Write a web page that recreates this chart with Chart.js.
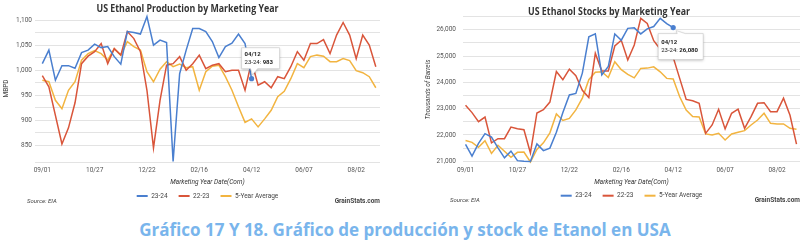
<!DOCTYPE html>
<html><head><meta charset="utf-8">
<script src="https://cdn.jsdelivr.net/npm/chart.js@4.4.1/dist/chart.umd.min.js"></script>
<style>
html,body{margin:0;padding:0;background:#fff;width:810px;height:244px;overflow:hidden}
.box{position:absolute;top:0;height:210px}
#c1box{left:0;width:395px}
#c2box{left:405px;width:405px}
#caption{position:absolute;left:0;width:810px;top:219px;text-align:center;font:bold 17px 'Open Sans';color:#79b5ec;line-height:22px;white-space:nowrap}
</style></head><body>
<div class="box" id="c1box"><canvas id="c1" width="395" height="210"></canvas></div>
<div class="box" id="c2box"><canvas id="c2" width="405" height="210"></canvas></div>
<div id="caption">Gráfico 17 Y 18. Gráfico de producción y stock de Etanol en USA</div>
<script>
// ---- data ----
const weekLabels = ['09/01','10/27','12/22','02/16','04/12','06/07','08/02'];
const seriesNames = ['23-24','22-23','5-Year Average'];

const prodTicks  = [850, 900, 950, 1000, 1050, 1100];
const stockTicks = [21000, 22000, 23000, 24000, 25000, 26000];

const prod2324 = [1013,1040,980,1009,1009,1004,1035,1040,1052,1045,1047,1027,1012,1077,1075,1072,1107,1050,1060,1055,818,993,1040,1083,1083,1077,1057,1025,1047,1054,1072,1053,983];
const prod2223 = [989,967,910,853,885,935,1013,1028,1037,1053,1013,1043,1030,1077,1063,1037,960,845,940,1010,1013,1027,1000,1013,1030,1003,1010,1013,997,1000,1000,960,1017,970,977,965,987,983,1007,1037,1020,1053,1053,1061,1033,1070,1095,1070,1023,1070,1050,1007];
const prod5yr  = [980,977,940,923,960,977,1020,1033,1039,1033,1020,1043,1030,1057,1047,1040,997,977,1002,1017,1007,1012,1005,1007,960,997,1008,1010,987,960,927,896,903,887,903,920,947,958,983,1013,1005,1027,1030,1028,1017,1017,1023,1019,999,995,987,965];

const stock2324 = [21640,21195,21680,22050,21920,21510,21130,21385,21025,21000,20990,21660,21405,21500,22100,22850,23520,23580,24350,25730,25840,24280,24600,25840,25600,26050,26070,25840,26030,26120,26430,26230,26080];
const stock2223 = [23130,22850,22505,22680,21700,21860,21860,22300,22240,22200,21315,22835,22960,23250,24410,24100,24500,24250,23700,23420,25100,24430,24430,25380,25600,24850,25420,26430,26240,25580,25260,25000,24950,24150,23350,23300,23200,22060,22380,22975,22230,22823,22980,22253,22694,23202,23227,22884,22884,23400,22750,21650];
const stock5yr  = [21790,21720,21530,21780,21300,21610,21380,21150,21340,21350,20975,21450,21700,22080,22800,22550,22630,22950,23400,24100,24380,24400,24180,24780,24480,24300,24170,24530,24540,24590,24400,24150,24130,23450,22950,22700,22680,22040,22000,22063,21810,22037,22100,22164,22379,22569,22823,22443,22417,22417,22253,22215];

const colors = ['#4a7fcf','#d9553a','#f2b440'];
const tipIndex = 32;

// ---- decoration plugin (title, legend, footer, callout) ----
const decor = {
  id: 'decor',
  afterDraw(chart, args, o) {
    const ctx = chart.ctx, ca = chart.chartArea;
    ctx.save();
    ctx.textBaseline = 'middle';
    // title
    ctx.font = 'bold 10px "Open Sans"';
    ctx.fillStyle = '#333';
    ctx.textAlign = 'center';
    const tw = ctx.measureText(o.title).width;
    ctx.save();
    ctx.translate(o.titleX, o.titleY);
    ctx.scale(o.titleW / tw, 1);
    ctx.fillText(o.title, 0, 0);
    ctx.restore();
    // legend
    ctx.font = '6.5px Roboto';
    const items = chart.data.datasets.map(d => ({t: d.label, c: d.borderColor, w: ctx.measureText(d.label).width}));
    const lw = 11, gap = 3.5, sp = 11;
    const total = items.reduce((s, it) => s + lw + gap + it.w, 0) + sp * (items.length - 1);
    let x = (ca.left + ca.right) / 2 - total / 2;
    ctx.textAlign = 'left';
    items.forEach(it => {
      ctx.strokeStyle = it.c; ctx.lineWidth = 2;
      ctx.beginPath(); ctx.moveTo(x, o.legendY); ctx.lineTo(x + lw, o.legendY); ctx.stroke();
      x += lw + gap;
      ctx.fillStyle = '#444';
      ctx.fillText(it.t, x, o.legendY);
      x += it.w + sp;
    });
    // footer
    ctx.font = 'italic 6px Roboto';
    ctx.fillStyle = '#444';
    ctx.fillText('Source: EIA', o.sourceX, o.footY);
    ctx.font = 'bold 6.5px Roboto';
    ctx.textAlign = 'right';
    ctx.fillText('GrainStats.com', ca.right, o.footY);
    // callout
    const ds = chart.data.datasets[0];
    const pt = chart.getDatasetMeta(0).data[tipIndex];
    const px = pt.x, py = pt.y;
    const [dx, dy, bw, bh] = o.tipBox;
    const bx = px + dx, by = py + dy;
    ctx.beginPath();
    if (o.tail === 'bottom') {
      ctx.moveTo(bx, by); ctx.lineTo(bx + bw, by); ctx.lineTo(bx + bw, by + bh);
      ctx.lineTo(px + 6, by + bh); ctx.lineTo(px + 1, py - 4); ctx.lineTo(px - 1, by + bh);
      ctx.lineTo(bx, by + bh); ctx.closePath();
    } else {
      ctx.moveTo(bx, by); ctx.lineTo(px + 4, by); ctx.lineTo(px + 3, py + 3); ctx.lineTo(px + 12, by);
      ctx.lineTo(bx + bw, by); ctx.lineTo(bx + bw, by + bh); ctx.lineTo(bx, by + bh); ctx.closePath();
    }
    ctx.shadowColor = 'rgba(0,0,0,0.25)'; ctx.shadowBlur = 3; ctx.shadowOffsetY = 1;
    ctx.fillStyle = '#fff'; ctx.fill();
    ctx.shadowColor = 'rgba(0,0,0,0)';
    ctx.strokeStyle = '#c8c8c8'; ctx.lineWidth = 0.6; ctx.stroke();
    ctx.textAlign = 'left';
    ctx.fillStyle = '#222';
    ctx.font = 'bold 6px Roboto';
    ctx.fillText(weekLabels[tipIndex / 8], bx + 3, by + o.tipL1);
    ctx.font = '6px Roboto';
    const pre = ds.label + ': ';
    ctx.fillText(pre, bx + 3, by + o.tipL2);
    const pw = ctx.measureText(pre).width;
    ctx.font = 'bold 6px Roboto';
    ctx.fillText(ds.data[tipIndex].y.toLocaleString('en-US'), bx + 3 + pw, by + o.tipL2);
    ctx.restore();
  }
};

function makeChart(id, cfg) {
  const labelSet = new Set(cfg.labels);
  return new Chart(document.getElementById(id), {
    type: 'line',
    data: {
      datasets: cfg.series.map((s, k) => ({
        label: seriesNames[k],
        data: s.map((v, i) => ({x: i, y: v})),
        borderColor: colors[k],
        backgroundColor: colors[k],
        borderWidth: 1.5,
        pointRadius: c => (k === 0 && c.dataIndex === tipIndex) ? 2.6 : 0,
        pointBackgroundColor: colors[k],
        pointBorderWidth: 0,
        tension: 0,
        clip: false
      }))
    },
    options: {
      responsive: false, animation: false, devicePixelRatio: 1, events: [],
      layout: {padding: cfg.pad},
      plugins: {legend: {display: false}, tooltip: {enabled: false}, decor: cfg.decor},
      scales: {
        x: {
          type: 'linear', min: cfg.xmin, max: cfg.xmax,
          afterBuildTicks: s => { s.ticks = weekLabels.map((_, j) => ({value: j * 8})); },
          afterFit: s => { s.height = 24; },
          grid: {display: false, drawTicks: false}, border: {display: false},
          ticks: {autoSkip: false, maxRotation: 0, padding: 4, color: '#555',
                  font: {family: 'Roboto', size: 6.5},
                  callback: v => weekLabels[v / 8] ?? ''},
          title: {display: true, text: 'Marketing Year Date(Corn)', color: '#333',
                  font: {family: 'Roboto', size: 6.5, style: 'italic'}, padding: {top: 0, bottom: 0}}
        },
        y: {
          min: cfg.ymin, max: cfg.ymax,
          afterBuildTicks: s => {
            const t = [];
            if (cfg.baseLine) t.push({value: cfg.ymin});
            const first = cfg.labels[0], last = cfg.labels[cfg.labels.length - 1];
            for (let v = first; v <= last + cfg.minor; v += cfg.minor) if (v < cfg.ymax) t.push({value: v});
            s.ticks = t;
          },
          afterFit: s => { s.width = cfg.yw; },
          border: {display: false},
          grid: {drawTicks: false, lineWidth: 1, color: '#e3e3e3'},
          ticks: {autoSkip: false, padding: cfg.tickPad, color: '#555',
                  font: {family: 'Roboto', size: 6.5},
                  callback: v => labelSet.has(v) ? v.toLocaleString('en-US') : ''},
          title: {display: true, text: cfg.ytitle, color: '#444',
                  font: {family: 'Roboto', size: 6.5, style: cfg.ytStyle}, padding: {top: cfg.ytp, bottom: 0}}
        }
      }
    },
    plugins: [decor]
  });
}

makeChart('c1', {
  series: [prod2324, prod2223, prod5yr],
  pad: {top: 15, right: 15, bottom: 24, left: 0},
  xmin: -1.12, xmax: 51.64,
  ymin: 817, ymax: 1110, labels: prodTicks, minor: 25, baseLine: true,
  yw: 35, tickPad: 3, ytp: 2,
  ytitle: 'MBPD', ytStyle: 'normal',
  decor: {title: 'US Ethanol Production by Marketing Year', titleX: 187.5, titleY: 9.5, titleW: 182,
          legendY: 196, sourceX: 27, footY: 201,
          tipBox: [-10, -31, 38, 21], tail: 'bottom', tipL1: 7, tipL2: 15}
});

makeChart('c2', {
  series: [stock2324, stock2223, stock5yr],
  pad: {top: 16.5, right: 10, bottom: 23.4, left: 18},
  xmin: -0.39, xmax: 51.54,
  ymin: 20950, ymax: 26501, labels: stockTicks, minor: 500, baseLine: false,
  yw: 40, tickPad: 7, ytp: 1,
  ytitle: 'Thousands of Barrels', ytStyle: 'italic',
  decor: {title: 'US Ethanol Stocks by Marketing Year', titleX: 204, titleY: 12, titleW: 162,
          legendY: 195.7, sourceX: 45, footY: 200.5,
          tipBox: [-15, 6, 45, 26], tail: 'top', tipL1: 9, tipL2: 17}
});
</script>
</body></html>
